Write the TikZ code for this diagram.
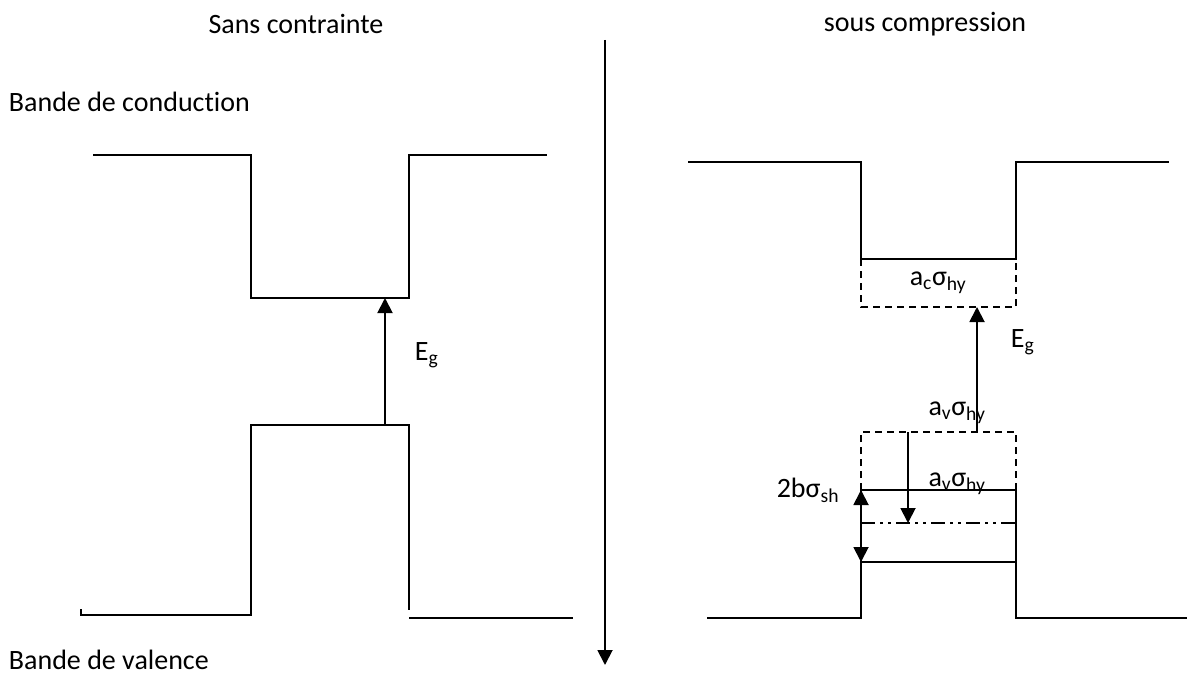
\documentclass[tikz,border=0pt]{standalone}
\usepackage{fontspec}
\setmainfont{Carlito}[Ligatures=NoCommon]
\usetikzlibrary{arrows.meta}
\begin{document}
\begin{tikzpicture}[x=1pt, y=-1pt, line width=1.9pt, every node/.style={font=\fontsize{28}{34}\selectfont, inner sep=0pt}, shifted/.style={dash pattern=on 7pt off 5pt}, split/.style={dash pattern=on 14pt off 5pt on 3pt off 5pt on 3pt off 5pt}, tip/.style={-{Triangle[length=15pt,width=15pt]}}, twotip/.style={{Triangle[length=15pt,width=15pt]}-{Triangle[length=15pt,width=15pt]}}]
		\useasboundingbox (0,0) rectangle (1189,677);
		% titles and band names
		\node (t1) at (296,24) {Sans contrainte};
		\node (t2) at (925,24) {sous compression};
		\node[anchor=west] (bc) at (8,102) {Bande de conduction};
		\node[anchor=west] (bv) at (8,660) {Bande de valence};

		% axis between the two cases
		\coordinate (top) at (605,40);
		\coordinate (bot) at (605,665);
		\draw[tip] (top) -- (bot);

		% without strain
		\draw (93,155) -- (251,155) -- (251,298) -- (409,298) -- (409,155) -- (547,155);
		\draw (81,609) -- (81,615) -- (251,615) -- (251,425) -- (409,425) -- (409,610);
		\draw (409,618) -- (573,618);
		\coordinate (v1) at (385,425);
		\coordinate (c1) at (385,298);
		\draw[tip] (v1) -- (c1);
		\node[anchor=west] (eg1) at (414,355) {E\textsubscript{g}};

		% under compression
		\draw (688,162) -- (861,162) -- (861,259) -- (1016,259) -- (1016,162) -- (1169,162);
		\draw[shifted] (861,259) -- (861,307) -- (1016,307) -- (1016,259);
		\node (ac) at (938,283) {a\textsubscript{c}σ\textsubscript{hy}};
		\coordinate (v2) at (977,432);
		\coordinate (c2) at (977,307);
		\draw[tip] (v2) -- (c2);
		\node[anchor=west] (eg2) at (1010,342) {E\textsubscript{g}};
		\node (av1) at (957,413) {a\textsubscript{v}σ\textsubscript{hy}};

		\draw[shifted] (861,490) -- (861,432) -- (1016,432) -- (1016,490);
		\draw (707,618) -- (861,618) -- (861,490) -- (1016,490) -- (1016,618) -- (1187,618);
		\node (av2) at (957,484) {a\textsubscript{v}σ\textsubscript{hy}};
		\coordinate (d1) at (908,432);
		\coordinate (d2) at (908,523);
		\draw[tip] (d1) -- (d2);
		\draw[split] (861,523) -- (1016,523);
		\draw (861,562) -- (1016,562);
		\coordinate (s1) at (861,490);
		\coordinate (s2) at (861,562);
		\draw[twotip] (s1) -- (s2);
		\node[anchor=east] (bs) at (840,490) {2bσ\textsubscript{sh}};
\end{tikzpicture}
\end{document}
